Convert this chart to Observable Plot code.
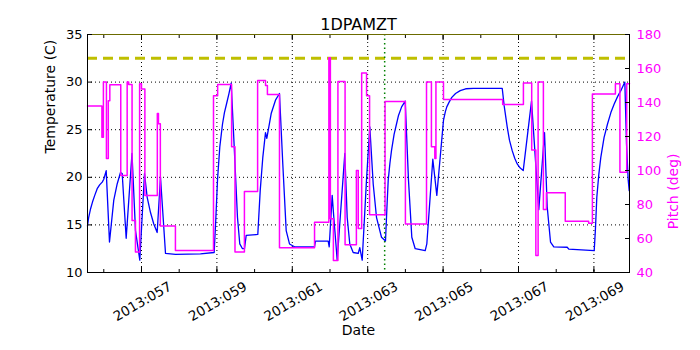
<!DOCTYPE html>
<html><head><meta charset="utf-8">
<script src="https://cdn.jsdelivr.net/npm/d3@7"></script>
<script src="https://cdn.jsdelivr.net/npm/@observablehq/plot@0.6"></script>
<style>body{margin:0;background:#fff;}</style>
</head><body><div id="chart"></div>
<script>
const title = "1DPAMZT";
const xLabel = "Date";
const yLabel = "Temperature (C)";
const y2Label = "Pitch (deg)";

// Temperature (1DPAMZT) — day of year 2013 vs deg C
const tempDays = [55.568,55.6,55.65,55.7,55.76,55.825,55.89,55.958,56.0,56.064,56.151,56.265,56.355,56.443,56.488,56.594,56.748,56.841,56.955,57.08,57.151,57.239,57.326,57.416,57.504,57.637,57.902,58.565,58.928,58.97,59.016,59.077,59.149,59.2,59.255,59.32,59.379,59.459,59.546,59.607,59.679,59.732,59.777,60.085,60.149,60.218,60.289,60.324,60.44,60.554,60.66,60.748,60.838,60.926,61.058,61.589,61.615,61.952,61.979,62.058,62.101,62.191,62.393,62.456,62.525,62.615,62.748,62.79,62.854,62.968,63.056,63.146,63.233,63.366,63.472,63.51,63.544,63.59,63.631,63.7,63.764,63.817,63.9,63.995,64.082,64.17,64.26,64.525,64.568,64.727,64.833,64.923,65.011,65.06,65.098,65.16,65.231,65.33,65.454,65.6,65.806,66.568,66.62,66.7,66.76,66.833,66.9,66.966,67.04,67.125,67.345,67.538,67.69,67.761,67.849,67.936,68.292,68.334,69.008,69.04,69.077,69.13,69.183,69.27,69.361,69.45,69.538,69.63,69.714,69.82,69.865,69.91,69.936];
const tempValues = [14.9,15.8,16.7,17.4,18.1,18.8,19.2,19.5,19.8,20.7,13.2,17.6,19.3,20.5,20.4,13.6,22.5,14.4,11.3,20.4,17.9,16.3,15.1,14.2,20.0,12.0,11.9,11.95,12.1,15.5,19.7,23.2,25.6,26.8,27.7,28.8,29.9,23.2,15.8,13.0,12.5,12.5,13.9,14.0,18.6,22.1,24.7,24.1,26.7,28.1,28.8,21.4,14.4,13.0,12.7,12.7,13.3,13.3,12.7,18.1,15.8,11.3,22.5,15.8,13.0,12.1,12.0,12.6,11.3,19.7,25.3,19.3,15.8,13.7,13.3,16.8,19.7,21.5,22.8,24.5,25.6,26.5,27.4,28.0,19.7,13.7,12.5,12.3,13.0,21.9,18.1,22.1,26.0,26.9,27.4,27.9,28.4,28.8,29.1,29.3,29.35,29.35,27.5,25.3,23.9,22.8,22.0,21.4,21.0,20.7,28.0,16.6,24.7,16.9,13.2,12.7,12.65,12.45,12.3,14.5,17.9,20.3,22.1,24.2,25.6,26.8,27.7,28.5,29.1,30.0,23.5,19.7,18.6];

// Pitch — step changes (day of year, deg)
const pitchDays = [55.568,55.95,55.99,56.07,56.12,56.16,56.45,56.62,56.66,56.75,56.84,56.95,57.0,57.09,57.42,57.45,57.5,57.9,58.91,59.02,59.39,59.48,59.73,60.08,60.29,60.34,60.66,61.59,61.97,62.01,62.09,62.21,62.4,62.7,62.75,62.84,62.97,63.05,63.46,64.0,64.56,64.69,64.78,64.81,65.01,66.58,67.13,67.35,67.46,67.52,67.66,67.74,68.24,68.86,68.96,69.57,69.69,69.87,69.944];
const pitchValues = [138,119.6,152,107,141,150.4,97,152,150.6,70.6,52,151,148,85.3,133.5,127.5,67.3,53,144,150.6,114,52,87.6,153,150,144.7,54.5,69.6,166.3,71.6,47,152.3,56.3,100,65.9,157.3,144,74,140.6,68.6,152,114,107,152,141.8,138.8,151.4,112,50,152,77,86.9,70.2,69,145,151,99,151,151];

const majorDays = [57,59,61,63,65,67,69];
const majorLabels = ["2013:057","2013:059","2013:061","2013:063","2013:065","2013:067","2013:069"];
const minorDays = [56,57,58,59,60,61,62,63,64,65,66,67,68,69];
const tempTicks = [10,15,20,25,30,35];
const pitchTicks = [40,60,80,100,120,140,160,180];
const limitTemp = 32.5;
const markerDay = 63.45;
const xDomain = [55.568, 69.944];
const tempDomain = [10, 35];
const pitchDomain = [40, 180];

const toT = p => tempDomain[0] + (p - pitchDomain[0]) * (tempDomain[1] - tempDomain[0]) / (pitchDomain[1] - pitchDomain[0]);
const fromT = t => pitchDomain[0] + (t - tempDomain[0]) * (pitchDomain[1] - pitchDomain[0]) / (tempDomain[1] - tempDomain[0]);

const tempData = tempDays.map((d, i) => ({d, v: tempValues[i]}));
const pitchData = pitchDays.map((d, i) => ({d, v: toT(pitchValues[i])}));
const blank = () => "";

const chart = Plot.plot({
  width: 700, height: 350,
  marginLeft: 87, marginRight: 71, marginTop: 34, marginBottom: 78,
  x: {domain: xDomain},
  y: {domain: tempDomain},
  style: {fontFamily: "DejaVu Sans", fontSize: "13px", background: "white", color: "black"},
  marks: [
    Plot.ruleX(majorDays, {stroke: "black", strokeDasharray: "1,3", strokeWidth: 1}),
    Plot.ruleY(tempTicks.slice(1, -1), {stroke: "black", strokeDasharray: "1,3", strokeWidth: 1}),
    Plot.line(tempData, {x: "d", y: "v", stroke: "#0000ff", strokeWidth: 1.3}),
    Plot.ruleY([limitTemp], {stroke: "#bfbf00", strokeWidth: 3, strokeDasharray: "10,6"}),
    Plot.ruleX([markerDay], {stroke: "#008000", strokeWidth: 1.5, strokeDasharray: "1.5,3"}),
    Plot.line(pitchData, {x: "d", y: "v", curve: "step-after", stroke: "#ff00ff", strokeWidth: 1.5}),
    Plot.frame({stroke: "black"}),
    Plot.ruleY([tempDomain[1]], {stroke: "#6b6b00", strokeWidth: 1.2}),
    // ticks (inward)
    Plot.axisX(majorDays, {anchor: "bottom", tickSize: -5, tickFormat: blank, label: null}),
    Plot.axisX(majorDays, {anchor: "top", tickSize: -5, tickFormat: blank, label: null}),
    Plot.axisX(minorDays, {anchor: "bottom", tickSize: -3, tickFormat: blank, label: null}),
    Plot.axisX(minorDays, {anchor: "top", tickSize: -3, tickFormat: blank, label: null}),
    Plot.axisY(tempTicks, {anchor: "left", tickSize: -5, tickFormat: blank, label: null}),
    Plot.axisY(pitchTicks.map(toT), {anchor: "right", tickSize: -5, tickFormat: blank, label: null}),
    // tick labels
    Plot.axisX(majorDays, {anchor: "bottom", tickSize: 0, tickPadding: 0, tickRotate: -30, textAnchor: "middle", lineAnchor: "middle", dy: 29, dx: 1, fontSize: 13.5, tickFormat: d => majorLabels[majorDays.indexOf(d)], label: null}),
    Plot.axisY(tempTicks, {anchor: "left", tickSize: 0, tickPadding: 5, label: null}),
    Plot.axisY(pitchTicks.map(toT), {anchor: "right", tickSize: 0, tickPadding: 7, fill: "#ff00ff", tickFormat: t => String(Math.round(fromT(t))), label: null}),
    // titles
    Plot.text([title], {frameAnchor: "top", dy: -16, text: d => d, fontSize: 16}),
    Plot.text([xLabel], {frameAnchor: "bottom", dy: 62, text: d => d, fontSize: 14}),
    Plot.text([yLabel], {frameAnchor: "left", dx: -37, rotate: -90, text: d => d, fontSize: 14}),
    Plot.text([y2Label], {frameAnchor: "right", dx: 44, rotate: -90, text: d => d, fontSize: 14, fill: "#ff00ff"})
  ]
});
document.getElementById("chart").append(chart);
</script>
</body></html>
